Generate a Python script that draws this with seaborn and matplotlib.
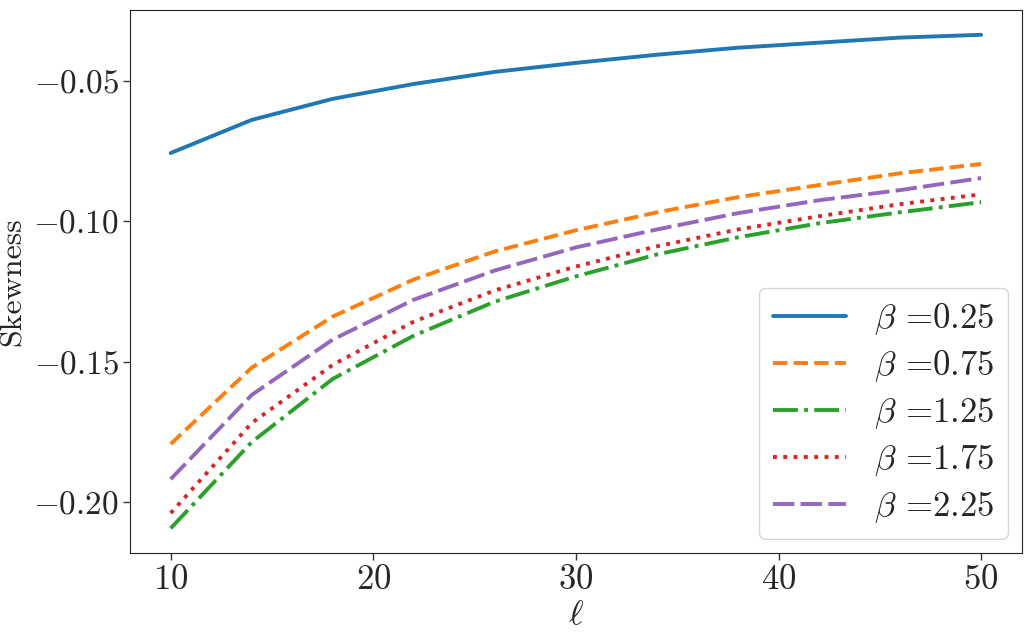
import pandas as pd
import seaborn as sns
import matplotlib.pyplot as plt
from matplotlib.ticker import FuncFormatter

ell = [10, 14, 18, 22, 26, 30, 34, 38, 42, 46, 50]
betas = ["0.25", "0.75", "1.25", "1.75", "2.25"]
skew_025 = [-0.0757, -0.0639, -0.0564, -0.0511, -0.0468, -0.0436, -0.0407, -0.0382, -0.0364, -0.0346, -0.0336]
skew_075 = [-0.1793, -0.1521, -0.1339, -0.1207, -0.1107, -0.1032, -0.0968, -0.0914, -0.0871, -0.0829, -0.0796]
skew_125 = [-0.2093, -0.1786, -0.1561, -0.1407, -0.1286, -0.1196, -0.1118, -0.1057, -0.1007, -0.0968, -0.0932]
skew_175 = [-0.2039, -0.1718, -0.1511, -0.1357, -0.1246, -0.1161, -0.1089, -0.1029, -0.0982, -0.0939, -0.0904]
skew_225 = [-0.1918, -0.1618, -0.1421, -0.1279, -0.1175, -0.1093, -0.1029, -0.0971, -0.0925, -0.0889, -0.0846]

sns.set_style("ticks")
plt.rcParams["mathtext.fontset"] = "cm"
plt.rcParams["font.family"] = ["cmr10", "DejaVu Serif"]
plt.rcParams["axes.formatter.use_mathtext"] = True

rows = []
for b, vals in zip(betas, [skew_025, skew_075, skew_125, skew_175, skew_225]):
    label = r"$\beta$ =" + b
    for x, y in zip(ell, vals):
        rows.append({"ell": x, "skew": y, "beta": label})
df = pd.DataFrame(rows)

fig = plt.figure(figsize=(10.33, 6.32), dpi=100)
ax = fig.add_axes([0.126, 0.125, 0.863, 0.859])

dashes = ["", (3.7, 1.6), (6.4, 1.6, 1, 1.6), (1, 1.65), (5.5, 1.6)]
sns.lineplot(data=df, x="ell", y="skew", hue="beta", style="beta",
             palette=sns.color_palette("tab10", 5), dashes=dashes,
             linewidth=2.8, ax=ax)


def yfmt(v, p):
    s = f"{v:.2f}"
    if s.startswith("-"):
        return "${-}" + s[1:] + "$"
    return f"${s}$"


ax.xaxis.set_major_formatter(FuncFormatter(lambda v, p: f"${v:.0f}$"))
ax.yaxis.set_major_formatter(FuncFormatter(yfmt))
ax.set_xticks([10, 20, 30, 40, 50])
ax.set_yticks([-0.20, -0.15, -0.10, -0.05])
ax.tick_params(labelsize=25, length=5, width=1, color="#333333")
ax.tick_params(axis="y", labelsize=24, pad=3)
for s in ax.spines.values():
    s.set_color("#222222")
ax.set_xlabel(r"$\ell$", fontsize=25, labelpad=2)
ax.set_ylabel("Skewness", fontsize=23, labelpad=5)

leg = ax.legend(loc="lower right", fontsize=25, handlelength=2.1,
                labelspacing=0.32, framealpha=0.8, borderaxespad=0.4)

fig.savefig("out.png", dpi=100)
